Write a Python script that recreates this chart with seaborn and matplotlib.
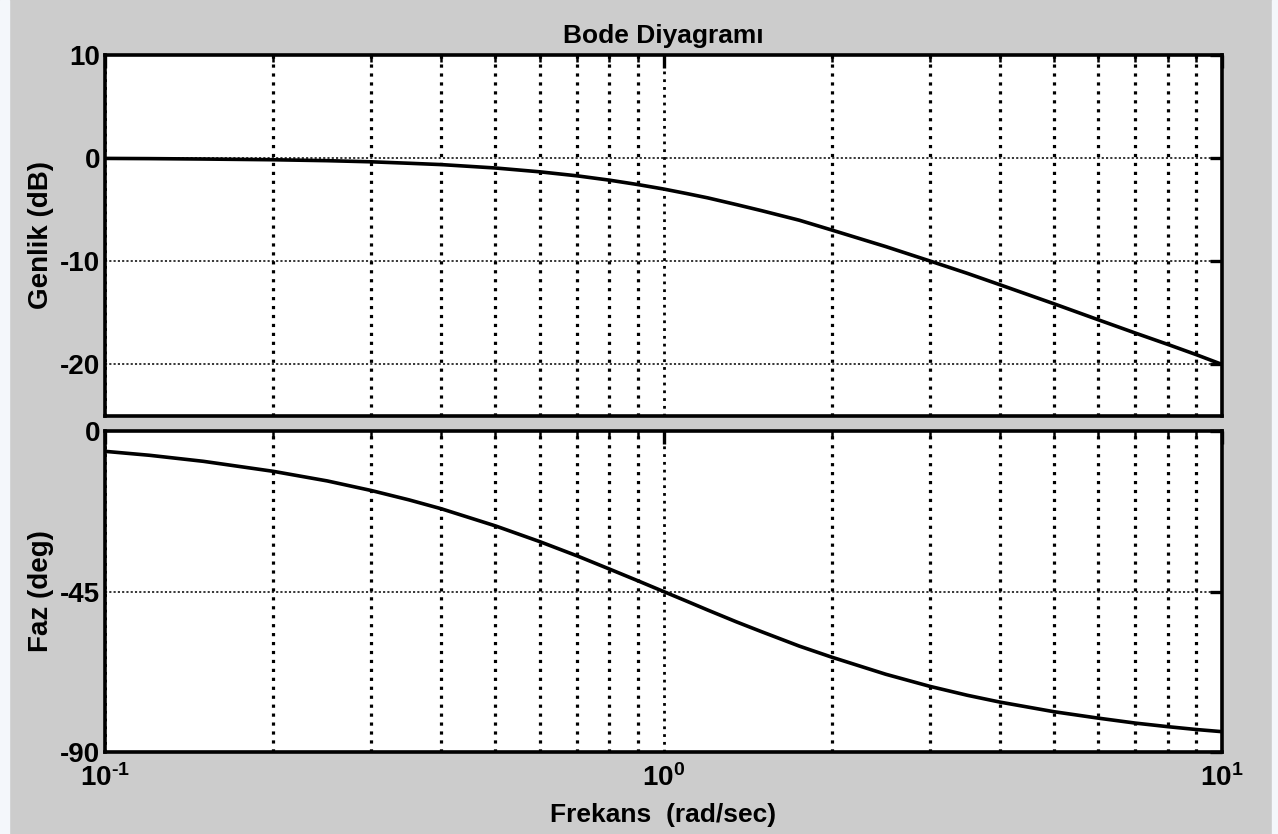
import matplotlib
matplotlib.use("Agg")
import matplotlib.pyplot as plt
import seaborn as sns
from matplotlib.patches import Rectangle
from matplotlib.ticker import FixedLocator, FixedFormatter

# ==============================
#   Values
# ==============================
freq = [0.1, 0.12, 0.15, 0.2, 0.25, 0.3, 0.35, 0.4, 0.5, 0.6, 0.7, 0.8, 0.9,
        1.0, 1.1, 1.2, 1.35, 1.5, 1.75, 2.0, 2.5, 3.0, 3.5, 4.0, 5.0, 6.0,
        7.0, 8.0, 9.0, 10.0]
genlik_db = [-0.04, -0.06, -0.10, -0.17, -0.26, -0.37, -0.51, -0.64, -0.97,
             -1.34, -1.73, -2.15, -2.58, -3.01, -3.45, -3.87, -4.52, -5.12,
             -6.04, -6.99, -8.60, -10.0, -11.2, -12.3, -14.15, -15.7, -17.0,
             -18.1, -19.1, -20.04]
faz_deg = [-5.7, -6.8, -8.5, -11.3, -14.0, -16.7, -19.3, -21.8, -26.6, -31.0,
           -35.0, -38.7, -42.0, -45.0, -47.7, -50.2, -53.5, -56.3, -60.3,
           -63.4, -68.2, -71.6, -74.1, -76.0, -78.7, -80.5, -81.9, -82.9,
           -83.7, -84.3]

mag_ticks = [-20, -10, 0, 10]
faz_ticks = [-90, -45, 0]
freq_ticks = [0.1, 1, 10]
freq_labels = [r"$10^{\text{-}1}$", r"$10^{0}$", r"$10^{1}$"]

title = "Bode Diyagramı"
xlabel = "Frekans  (rad/sec)"
ylabel_top = "Genlik (dB)"
ylabel_bottom = "Faz (deg)"

# ==============================
#           Style
# ==============================
sns.set_theme(style="white")
plt.rcParams["font.family"] = ["Liberation Sans", "DejaVu Sans"]
plt.rcParams["font.weight"] = "bold"
plt.rcParams["text.color"] = "black"
plt.rcParams["axes.labelcolor"] = "black"
plt.rcParams["xtick.color"] = "black"
plt.rcParams["ytick.color"] = "black"
plt.rcParams["axes.unicode_minus"] = False
plt.rcParams["mathtext.fontset"] = "custom"
plt.rcParams["mathtext.rm"] = "Liberation Sans:bold"
plt.rcParams["mathtext.it"] = "Liberation Sans:bold"
plt.rcParams["mathtext.bf"] = "Liberation Sans:bold"
plt.rcParams["mathtext.default"] = "rm"

fs = 20
bg = "#cccccc"
fig = plt.figure(figsize=(12.78, 8.34), dpi=100, facecolor=bg)

# thin light strips at the edges of the screenshot
fig.patches.append(Rectangle((0, 0), 9 / 1278, 1, transform=fig.transFigure,
                             color="#f4f7fb", zorder=0))
fig.patches.append(Rectangle((1272 / 1278, 0), 6 / 1278, 1, transform=fig.transFigure,
                             color="#f4f7fb", zorder=0))

left = 105 / 1278
width = (1222 - 105) / 1278
ax1 = fig.add_axes([left, 1 - 415.5 / 834, width, (415.5 - 55) / 834])
ax2 = fig.add_axes([left, 1 - 752 / 834, width, (752 - 431) / 834])

sns.lineplot(x=freq, y=genlik_db, ax=ax1, color="black", linewidth=2.6, sort=False)
sns.lineplot(x=freq, y=faz_deg, ax=ax2, color="black", linewidth=2.6, sort=False)

for ax, ticks, ylim in [(ax1, mag_ticks, (-25, 10)), (ax2, faz_ticks, (-90, 0))]:
    ax.set_facecolor("white")
    ax.set_xscale("log")
    ax.set_xlim(0.1, 10)
    ax.set_ylim(*ylim)
    ax.set_yticks(ticks)
    ax.xaxis.set_major_locator(FixedLocator(freq_ticks))
    ax.xaxis.set_major_formatter(FixedFormatter(freq_labels))
    for sp in ax.spines.values():
        sp.set_color("black")
        sp.set_linewidth(2.6)
        sp.set_visible(True)
    ax.tick_params(which="major", direction="in", top=True, right=True,
                   length=9, width=2.4, color="black", labelsize=fs,
                   labelcolor="black", pad=3.5)
    ax.tick_params(which="minor", direction="in", top=True, right=True,
                   length=5, width=1.8, color="black")
    ax.tick_params(axis="x", which="major", pad=9)
    ax.grid(False)
    ax.grid(which="minor", axis="x", color="black", linewidth=2.3,
            linestyle=(0, (1, 1.8)))
    ax.grid(which="major", axis="x", color="black", linewidth=2.0,
            linestyle=(0, (1, 1.8)))
    ax.grid(which="major", axis="y", color="black", linewidth=1.1,
            linestyle=(0, (1.4, 1.4)))

ax1.tick_params(axis="x", which="both", labelbottom=False)

ax1.set_title(title, fontsize=19, fontweight="bold", pad=9)
ax2.set_xlabel(xlabel, fontsize=19, fontweight="bold", labelpad=8)
ax1.set_ylabel(ylabel_top, fontsize=fs, fontweight="bold", labelpad=4)
ax2.set_ylabel(ylabel_bottom, fontsize=fs, fontweight="bold", labelpad=4)
fig.align_ylabels([ax1, ax2])

fig.savefig("out.png", dpi=100, facecolor=bg)
